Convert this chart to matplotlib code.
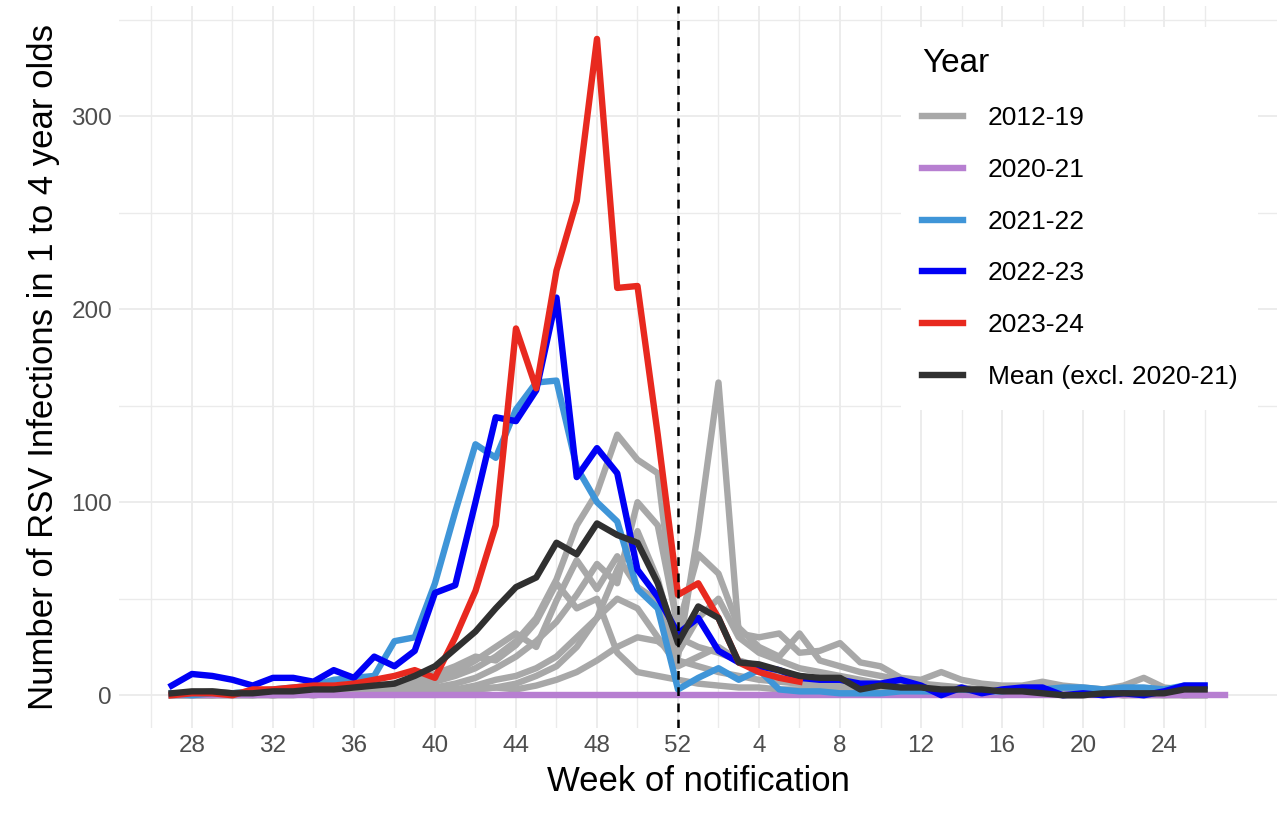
import numpy as np
import matplotlib
matplotlib.use("Agg")
import matplotlib.pyplot as plt
from matplotlib.ticker import FixedLocator

plt.rcParams['font.family'] = ['Liberation Sans', 'DejaVu Sans']

# season weeks: 27..52 then 1..26
weeks = list(range(27, 53)) + list(range(1, 27))
tick_weeks = [28, 32, 36, 40, 44, 48, 52, 4, 8, 12, 16, 20, 24]

# 2012-19 seasons (grey)
grey_seasons = [
    [0, 1, 0, 1, 1, 0, 1, 2, 1, 2, 3, 4, 5, 7, 10, 14, 20, 28, 40, 60,
     88, 105, 135, 122, 115, 30, 25, 22, 18, 15, 12, 10, 8, 7, 6, 5, 4, 3, 3, 2,
     2, 2, 1, 1, 1, 2, 1, 1, 1, 0, 1, 1],
    [0, 0, 1, 0, 0, 1, 1, 0, 1, 1, 1, 2, 2, 2, 3, 3, 4, 3, 5, 8,
     12, 18, 25, 30, 28, 20, 85, 162, 32, 30, 32, 22, 23, 27, 17, 15, 9, 8, 12, 8,
     6, 5, 5, 7, 5, 4, 3, 5, 9, 4, 3, 2],
    [0, 0, 0, 1, 0, 1, 1, 1, 2, 2, 2, 3, 3, 4, 6, 9, 14, 20, 28, 38,
     52, 68, 58, 100, 88, 35, 73, 63, 35, 25, 20, 32, 18, 15, 12, 10, 8, 6, 5, 4,
     3, 3, 2, 2, 2, 1, 1, 1, 2, 1, 1, 1],
    [0, 1, 1, 1, 2, 1, 2, 2, 3, 3, 3, 4, 6, 8, 12, 18, 25, 32, 25, 49,
     70, 55, 72, 56, 49, 18, 15, 12, 10, 8, 7, 6, 5, 4, 4, 3, 3, 2, 2, 2,
     1, 1, 1, 2, 1, 1, 0, 1, 0, 1, 0, 0],
    [0, 0, 0, 0, 1, 0, 0, 1, 1, 1, 1, 1, 2, 2, 3, 5, 8, 10, 14, 20,
     30, 40, 50, 45, 30, 15, 20, 25, 18, 14, 11, 9, 7, 6, 5, 4, 4, 3, 3, 2,
     2, 2, 1, 1, 1, 1, 1, 0, 1, 1, 0, 1],
    [1, 1, 2, 1, 2, 2, 3, 2, 3, 4, 5, 6, 9, 11, 15, 20, 18, 26, 38, 58,
     45, 50, 22, 12, 10, 8, 6, 5, 4, 4, 3, 3, 2, 2, 2, 1, 1, 1, 1, 1,
     1, 0, 1, 1, 0, 0, 1, 0, 0, 0, 0, 0],
    [0, 0, 0, 0, 0, 0, 1, 0, 1, 1, 1, 1, 1, 2, 2, 3, 4, 6, 10, 15,
     25, 40, 65, 85, 60, 22, 40, 50, 30, 22, 18, 14, 12, 10, 8, 6, 5, 4, 4, 3,
     3, 2, 2, 2, 1, 1, 1, 1, 1, 1, 1, 1],
]

y2020_21 = [0] * 53

y2021_22 = [1, 0, 1, 1, 2, 3, 4, 5, 8, 9, 10, 28, 30, 58, 95, 130, 123, 148, 162, 163,
            118, 100, 90, 55, 45, 3, 9, 14, 8, 13, 3, 2, 2, 1, 1, 1, 2, 2, 2, 3,
            2, 2, 3, 3, 4, 4, 3, 4, 4, 3, 5, 5]

y2022_23 = [5, 11, 10, 8, 5, 9, 9, 7, 13, 9, 20, 15, 23, 53, 57, 100, 144, 142, 158, 206,
            113, 128, 115, 65, 51, 32, 40, 23, 17, 15, 13, 9, 8, 8, 6, 6, 8, 5, 0, 4,
            1, 3, 4, 4, 0, 1, 0, 1, 0, 2, 5, 5]

y2023_24 = [0, 1, 1, 0, 3, 3, 4, 5, 5, 6, 8, 10, 13, 9, 30, 54, 88, 190, 159, 220,
            256, 340, 211, 212, 135, 52, 58, 40, 17, 12, 9, 7]

mean_excl = [1, 2, 2, 1, 1, 2, 2, 3, 3, 4, 5, 6, 10, 15, 24, 33, 45, 56, 61, 79,
             73, 89, 83, 79, 58, 27, 46, 40, 17, 16, 13, 10, 9, 9, 3, 5, 4, 4, 3, 3,
             3, 2, 2, 1, 0, 0, 1, 1, 1, 1, 3, 3]

c_grey = '#a8a8a8'
c_purple = '#b77fd1'
c_lblue = '#3f95d8'
c_blue = '#0000f5'
c_red = '#e8291f'
c_mean = '#303030'
lw = 4.6

fig = plt.figure(figsize=(12.8, 8.13), dpi=100)
ax = fig.add_axes([0.093, 0.1045, 0.905, 0.888])

for i, s in enumerate(grey_seasons):
    ax.plot(np.arange(len(s)), s, color=c_grey, lw=lw,
            label='2012-19' if i == 0 else None, zorder=2)
ax.plot(np.arange(len(y2020_21)), y2020_21, color=c_purple, lw=lw, label='2020-21', zorder=3)
ax.plot(np.arange(len(y2021_22)), y2021_22, color=c_lblue, lw=lw, label='2021-22', zorder=4)
ax.plot(np.arange(len(y2022_23)), y2022_23, color=c_blue, lw=lw, label='2022-23', zorder=5)
ax.plot(np.arange(len(y2023_24)), y2023_24, color=c_red, lw=lw, label='2023-24', zorder=6)
ax.plot(np.arange(len(mean_excl)), mean_excl, color=c_mean, lw=lw,
        label='Mean (excl. 2020-21)', zorder=7)

# end of calendar year
ax.axvline(weeks.index(52), color='black', lw=1.8, ls=(0, (3.5, 3)), zorder=8)

tick_pos = [weeks.index(w) for w in tick_weeks]
ax.set_xticks(tick_pos)
ax.set_xticklabels([str(w) for w in tick_weeks])
ax.xaxis.set_minor_locator(FixedLocator([p - 2 for p in tick_pos] + [tick_pos[-1] + 2]))
ax.set_yticks([0, 100, 200, 300])
ax.yaxis.set_minor_locator(FixedLocator([50, 150, 250, 350]))
ax.set_xlim(-2.6, 54.6)
ax.set_ylim(-17, 357)

ax.grid(which='major', color='#ebebeb', lw=1.3, zorder=0)
ax.grid(which='minor', color='#ebebeb', lw=1.0, zorder=0)
ax.set_axisbelow(True)
for sp in ax.spines.values():
    sp.set_visible(False)
ax.tick_params(which='both', length=0)
ax.tick_params(axis='both', labelsize=17.5, colors='#4d4d4d', pad=5)

ax.set_xlabel('Week of notification', fontsize=25, labelpad=6)
ax.set_ylabel('Number of RSV Infections in 1 to 4 year olds', fontsize=25, labelpad=8)

leg = ax.legend(title='Year', loc='upper right', bbox_to_anchor=(0.995, 0.99),
                fontsize=19, title_fontsize=24, frameon=True, framealpha=1,
                facecolor='white', edgecolor='none', handlelength=1.55,
                handletextpad=0.95, labelspacing=1.05, borderpad=0.8,
                alignment='left', fancybox=False)
leg.set_zorder(20)

fig.savefig('out.png', dpi=100)
